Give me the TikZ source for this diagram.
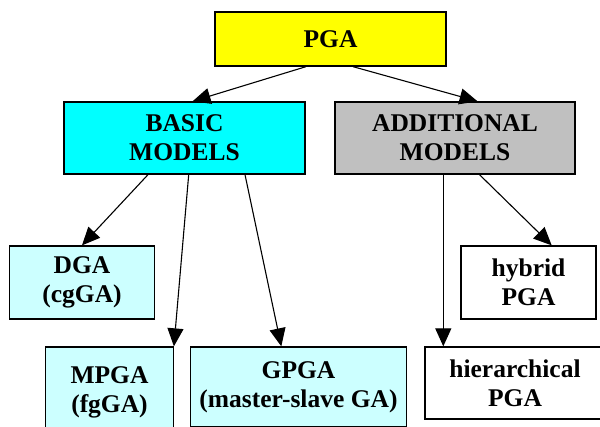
\documentclass[tikz,border=0pt]{standalone}
\usepackage{fontspec}
\setmainfont{Liberation Serif}
\usetikzlibrary{arrows.meta}
\definecolor{pgayellow}{HTML}{FFFF00}
\definecolor{basiccyan}{HTML}{00FFFF}
\definecolor{addgray}{HTML}{C0C0C0}
\definecolor{leafcyan}{HTML}{CCFFFF}
\tikzset{
  box/.style={draw=black, line width=1.3pt, inner sep=0pt, align=center,
    font=\fontsize{25.5}{29}\selectfont\bfseries},
  conn/.style={line width=1.1pt, -{Triangle[length=18pt,width=16pt]}}
}
\begin{document}
\begin{tikzpicture}[x=1pt,y=-1pt]
\clip (0,0) rectangle (600,426);
\fill[white] (0,0) rectangle (600,426);
\node[box, fill=pgayellow, minimum width=231pt, minimum height=54pt] (pga) at (330.5,39) {PGA};
\node[box, fill=basiccyan, minimum width=241pt, minimum height=72pt] (basic) at (184.5,138) {BASIC\\MODELS};
\node[box, fill=addgray, minimum width=240pt, minimum height=72pt] (add) at (455,138) {ADDITIONAL\\MODELS};
\node[box, fill=leafcyan, minimum width=145pt, minimum height=73pt] (dga) at (82,282.5) {DGA\\(cgGA)};
\node[box, fill=white, minimum width=135pt, minimum height=73pt] (hybrid) at (528.5,282.5) {hybrid\\PGA};
\node[box, fill=leafcyan, minimum width=127.5pt, minimum height=90pt] (mpga) at (109.5,392) {MPGA\\(fgGA)};
\node[box, fill=leafcyan, minimum width=216pt, minimum height=80pt] (gpga) at (298.5,387) {GPGA\\(master-slave GA)};
\node[box, fill=white, minimum width=180pt, minimum height=72pt] (hier) at (515,383) {hierarchical\\PGA};
\draw[conn] ([xshift=-24.5pt]pga.south) -- ([xshift=8pt]basic.north);
\draw[conn] ([xshift=22.5pt]pga.south) -- ([xshift=22.6pt]add.north);
\draw[conn] ([xshift=-36.5pt]basic.south) -- (dga.north);
\draw[conn] ([xshift=4.2pt]basic.south) -- (mpga.north east);
\draw[conn] ([xshift=60.5pt]basic.south) -- ([xshift=-17.2pt]gpga.north);
\draw[conn] ([xshift=-11.7pt]add.south) -- ([xshift=-11.7pt]add.south |- hier.north);
\draw[conn] ([xshift=24.5pt]add.south) -- ([xshift=23.2pt]hybrid.north);
\end{tikzpicture}
\end{document}
